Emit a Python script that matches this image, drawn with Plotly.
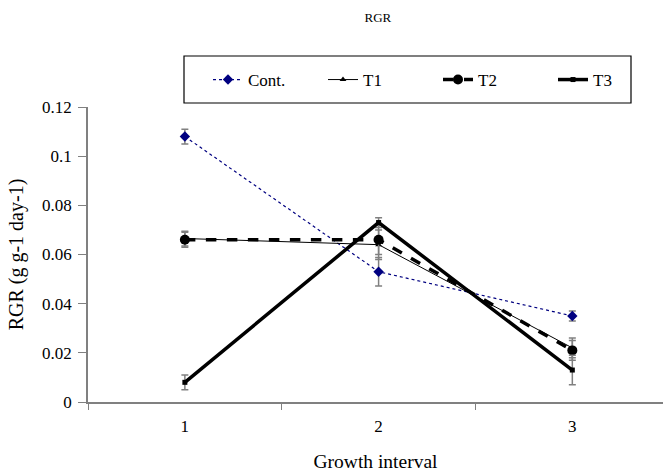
import plotly.graph_objects as go

categories = ["1", "2", "3"]
cont = [0.108, 0.053, 0.035]
cont_err = [0.003, 0.0058, 0.002]
t1 = [0.0665, 0.064, 0.022]
t1_err = [0.003, 0.006, 0.004]
t2 = [0.066, 0.066, 0.021]
t2_err = [0.003, 0.006, 0.004]
t3 = [0.008, 0.073, 0.013]
t3_err = [0.003, 0.002, 0.006]
yticks = [0, 0.02, 0.04, 0.06, 0.08, 0.1, 0.12]
ytick_labels = ["0", "0.02", "0.04", "0.06", "0.08", "0.1", "0.12"]

FONT = "Liberation Serif"
ERR = "#808080"

W, H = 663, 473
L, R, T, B = 88, 0, 107, 71
PW, PH = W - L - R, H - T - B


def px_x(px):
    return (px - L) / PW


def px_y(py):
    return (H - B - py) / PH


fig = go.Figure()
fig.add_trace(go.Scatter(
    x=categories, y=cont, name="Cont.", mode="lines+markers",
    line=dict(color="#000080", width=1.2, dash="dot"),
    marker=dict(symbol="diamond", size=8, color="#000080"),
    error_y=dict(type="data", array=cont_err, color=ERR, thickness=1.5, width=3.5),
))
fig.add_trace(go.Scatter(
    x=categories, y=t1, name="T1", mode="lines+markers",
    line=dict(color="black", width=1),
    marker=dict(symbol="triangle-up", size=6, color="black"),
    error_y=dict(type="data", array=t1_err, color=ERR, thickness=1.5, width=3.5),
))
fig.add_trace(go.Scatter(
    x=categories, y=t2, name="T2", mode="lines+markers",
    line=dict(color="black", width=3.5, dash="dash"),
    marker=dict(symbol="circle", size=10, color="black"),
    error_y=dict(type="data", array=t2_err, color=ERR, thickness=1.5, width=3.5),
))
fig.add_trace(go.Scatter(
    x=categories, y=t3, name="T3", mode="lines+markers",
    line=dict(color="black", width=3.5),
    marker=dict(symbol="square", size=5, color="black"),
    error_y=dict(type="data", array=t3_err, color=ERR, thickness=1.5, width=3.5),
))

fig.update_layout(
    width=W, height=H,
    margin=dict(l=L, r=R, t=T, b=B, autoexpand=False),
    paper_bgcolor="white", plot_bgcolor="white",
    font=dict(family=FONT, color="black", size=17),
    title=dict(text="RGR", x=0.57, xanchor="center", y=1 - 17 / H, yanchor="middle",
               font=dict(family=FONT, size=13, color="black")),
    showlegend=True,
    legend=dict(
        orientation="h",
        x=px_x(208), xanchor="left",
        y=px_y(80), yanchor="middle",
        font=dict(family=FONT, size=17, color="black"),
        borderwidth=0, bgcolor="rgba(0,0,0,0)",
        entrywidth=70, entrywidthmode="pixels",
    ),
    shapes=[dict(
        type="rect", xref="paper", yref="paper",
        x0=px_x(184), x1=px_x(631), y0=px_y(103), y1=px_y(56),
        line=dict(color="black", width=1.2), fillcolor="white", layer="below",
    )],
)

fig.update_xaxes(
    type="category", range=[-0.5, 2.468],
    showline=True, linecolor=ERR, linewidth=1.5,
    ticks="outside", tickson="boundaries", ticklen=6, tickcolor=ERR,
    ticklabelstandoff=8,
    showgrid=False, zeroline=False,
    title=dict(text="Growth interval", font=dict(family=FONT, size=19.5), standoff=19),
    tickfont=dict(family=FONT, size=17),
)
fig.update_yaxes(
    range=[0, 0.12], tickvals=yticks, ticktext=ytick_labels,
    showline=True, linecolor=ERR, linewidth=1.5,
    ticks="outside", ticklen=8, tickcolor=ERR,
    ticklabelstandoff=3,
    showgrid=False, zeroline=False,
    title=dict(text="RGR (g g-1 day-1)", font=dict(family=FONT, size=20), standoff=13),
    tickfont=dict(family=FONT, size=17),
)

fig.write_html("out.html")
